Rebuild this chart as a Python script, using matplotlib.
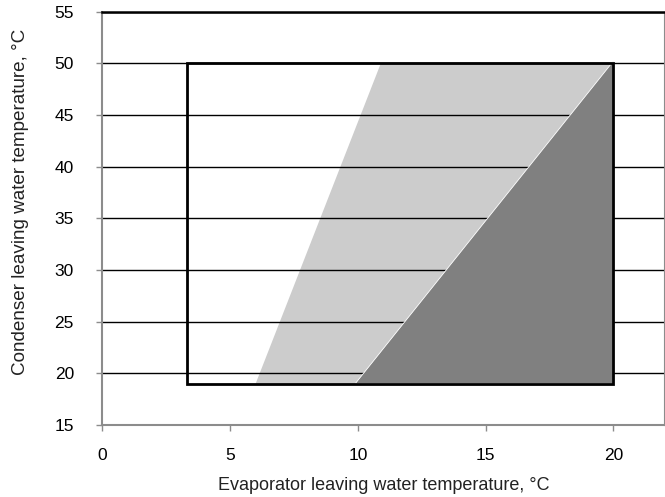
import matplotlib
matplotlib.use("Agg")
import matplotlib.pyplot as plt
from matplotlib.patches import Polygon

plt.rcParams['font.family'] = ['Liberation Sans', 'DejaVu Sans']

# operating envelope (evaporator x, condenser y)
envelope_x = [3.3, 20, 20, 3.3]
envelope_y = [19, 19, 50, 50]

# light gray zone
light_x = [6.0, 10.9, 20.0, 9.9]
light_y = [19, 50, 50, 19]

# dark gray zone
dark_x = [9.9, 20.0, 20.0]
dark_y = [19, 50.2, 19]

x_ticks = [0, 5, 10, 15, 20]
y_ticks = [15, 20, 25, 30, 35, 40, 45, 50, 55]

fig = plt.figure(figsize=(6.65, 4.97), dpi=100)
ax = fig.add_axes([0.154, 0.145, 0.845, 0.8315])

ax.add_patch(Polygon(list(zip(light_x, light_y)), closed=True,
                     facecolor='#cccccc', edgecolor='none', zorder=1))
for y in y_ticks[1:]:
    ax.axhline(y, color='black', lw=1.0, zorder=2)
ax.add_patch(Polygon(list(zip(dark_x, dark_y)), closed=True,
                     facecolor='#808080', edgecolor='white', lw=0.6, zorder=3))
ax.add_patch(Polygon(list(zip(envelope_x, envelope_y)), closed=True,
                     facecolor='none', edgecolor='black', lw=2.0, zorder=4))

ax.set_xlim(0, 22)
ax.set_ylim(15, 55)
ax.set_xticks(x_ticks)
ax.set_yticks(y_ticks)

for side in ['left', 'bottom', 'right']:
    ax.spines[side].set_color('#8c8c8c')
ax.spines['left'].set_linewidth(1.5)
ax.spines['bottom'].set_linewidth(1.5)
ax.spines['right'].set_linewidth(0.8)
ax.spines['top'].set_color('black')
ax.spines['top'].set_linewidth(1.8)

ax.tick_params(axis='both', direction='out', length=4.5, width=1,
               color='#8c8c8c', labelsize=12.5, labelcolor='black')
ax.tick_params(axis='x', pad=12)
ax.tick_params(axis='y', pad=16)

ax.set_xlabel('Evaporator leaving water temperature, °C', fontsize=13, color='#222222')
ax.set_ylabel('Condenser leaving water temperature, °C', fontsize=13.6, color='#222222')
ax.xaxis.set_label_coords(0.501, -0.126)
ax.yaxis.set_label_coords(-0.13, 0.54)

fig.savefig('out.png', dpi=100)
